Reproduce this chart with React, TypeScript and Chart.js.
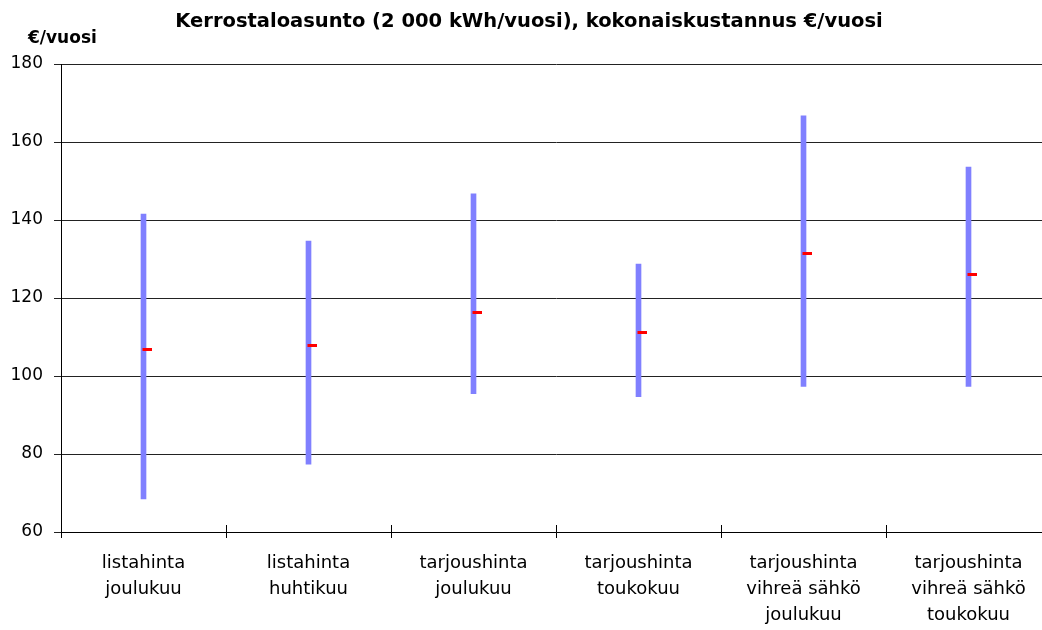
import React, { useEffect, useRef } from "react";
import { Chart, registerables } from "chart.js";

Chart.register(...registerables);

const categories: string[][] = [
  ["listahinta", "joulukuu"],
  ["listahinta", "huhtikuu"],
  ["tarjoushinta", "joulukuu"],
  ["tarjoushinta", "toukokuu"],
  ["tarjoushinta", "vihreä sähkö", "joulukuu"],
  ["tarjoushinta", "vihreä sähkö", "toukokuu"],
];
const lowValues = [68.5, 77.4, 95.5, 94.7, 97.3, 97.3];
const highValues = [141.5, 134.6, 146.7, 128.7, 166.7, 153.6];
const closeValues = [106.7, 107.7, 116.4, 111.2, 131.5, 125.9];
const titleText = "Kerrostaloasunto (2 000 kWh/vuosi), kokonaiskustannus €/vuosi";
const unitText = "€/vuosi";
const yMin = 60;
const yMax = 180;
const yStep = 20;

const FONT = "'DejaVu Sans', sans-serif";

function makeMarker(): HTMLCanvasElement {
  const c = document.createElement("canvas");
  c.width = 16;
  c.height = 3;
  const ctx = c.getContext("2d")!;
  ctx.fillStyle = "#FF0000";
  ctx.fillRect(7, 0, 9, 3);
  return c;
}

const decorPlugin = {
  id: "decor",
  afterDraw(chart: any) {
    const { ctx, chartArea } = chart;
    ctx.save();
    ctx.fillStyle = "#000";
    ctx.font = `bold 19.5px ${FONT}`;
    ctx.textAlign = "center";
    ctx.textBaseline = "alphabetic";
    ctx.fillText(titleText, 529, 27);
    ctx.font = `bold 17px ${FONT}`;
    ctx.textAlign = "left";
    ctx.fillText(unitText, 28, 43);
    // upward part of x tick marks (cross style)
    const n = categories.length;
    const w = (chartArea.right - chartArea.left) / n;
    ctx.strokeStyle = "#000";
    ctx.lineWidth = 1;
    for (let i = 1; i < n; i++) {
      const x = Math.round(chartArea.left + i * w) + 0.5;
      ctx.beginPath();
      ctx.moveTo(x, chartArea.bottom - 7);
      ctx.lineTo(x, chartArea.bottom);
      ctx.stroke();
    }
    ctx.restore();
  },
};

export default function App() {
  const ref = useRef<HTMLCanvasElement>(null);
  useEffect(() => {
    if (!ref.current) return;
    const marker = makeMarker();
    const chart = new Chart(ref.current, {
      type: "bar",
      data: {
        labels: categories,
        datasets: [
          {
            type: "bar",
            label: "range",
            data: lowValues.map((l, i) => [l, highValues[i]]) as any,
            backgroundColor: "#8080FF",
            borderWidth: 0,
            barThickness: 5,
            order: 2,
          },
          {
            type: "line",
            label: "close",
            data: closeValues,
            showLine: false,
            pointStyle: marker as any,
            pointRadius: 8,
            pointHoverRadius: 8,
            order: 1,
          } as any,
        ],
      },
      options: {
        responsive: false,
        animation: false,
        events: [],
        layout: { padding: { top: 64, right: 8, left: 0, bottom: 0 } },
        plugins: {
          legend: { display: false },
          title: { display: false },
          tooltip: { enabled: false },
        },
        scales: {
          x: {
            offset: true,
            grid: {
              offset: true,
              drawOnChartArea: false,
              tickLength: 6,
              color: "#000",
              tickColor: "#000",
            },
            border: { display: true, color: "#000" },
            ticks: {
              color: "#000",
              font: { family: FONT, size: 18, lineHeight: 1.42 },
              padding: 13,
              maxRotation: 0,
              autoSkip: false,
            },
            afterFit: (scale: any) => {
              scale.height = 98;
            },
          },
          y: {
            min: yMin,
            max: yMax,
            grid: {
              color: "#222",
              tickColor: "#222",
              tickLength: 7,
            },
            border: { display: true, color: "#000" },
            ticks: {
              stepSize: yStep,
              color: "#000",
              font: { family: FONT, size: 17 },
              padding: 11,
            },
            afterFit: (scale: any) => {
              scale.width = 61;
            },
          },
        },
      },
      plugins: [decorPlugin],
    });
    return () => chart.destroy();
  }, []);
  return (
    <div
      style={{
        position: "absolute",
        left: 0,
        top: 0,
        width: 1042,
        height: 630,
        overflow: "hidden",
        background: "#fff",
      }}
    >
      <canvas ref={ref} width={1060} height={630} />
    </div>
  );
}
